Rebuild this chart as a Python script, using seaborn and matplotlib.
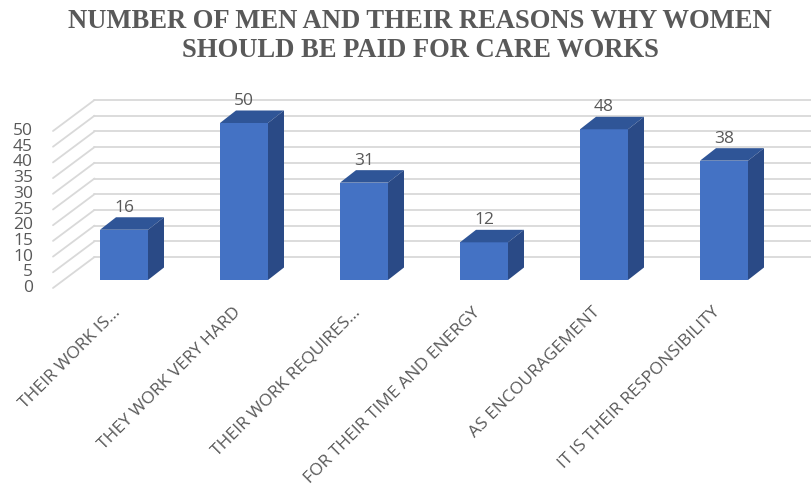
import matplotlib
matplotlib.use("Agg")
import matplotlib.pyplot as plt
import seaborn as sns
import numpy as np
from matplotlib.transforms import Affine2D
from matplotlib.patches import Polygon
from matplotlib.lines import Line2D

categories = ["THEIR WORK IS...", "THEY WORK VERY HARD", "THEIR WORK REQUIRES...",
              "FOR THEIR TIME AND ENERGY", "AS ENCOURAGEMENT", "IT IS THEIR RESPONSIBILITY"]
values = [16, 50, 31, 12, 48, 38]
yticks = [0, 5, 10, 15, 20, 25, 30, 35, 40, 45, 50]
title = "NUMBER OF MEN AND THEIR REASONS WHY WOMEN\nSHOULD BE PAID FOR CARE WORKS"

FRONT = "#4472C4"
TOP = "#2F5597"
SIDE = "#2A4A86"
GRID = "#D9D9D9"
TXT = "#595959"

sns.set_theme(style="white")
plt.rcParams["font.family"] = ["Open Sans", "DejaVu Sans"]

W, H = 812, 486
fig = plt.figure(figsize=(W / 100, H / 100), dpi=100)
# front plane of the bars: x center i at 124+120i px, y=0 at 280 px from top, 3.14 px/unit
ax = fig.add_axes([64 / W, (H - 280) / H, 720 / W, 157 / H])
ax.set_xlim(-0.5, 5.5)
ax.set_ylim(0, 50)
ax.axis("off")

# offsets in display pixels (y up)
back = Affine2D().translate(30.5, 23)
front = Affine2D().translate(-11, -8)
depth = np.array([16.0, 12.5])

# back wall grid lines and diagonals on the left wall
for t in yticks:
    ax.add_line(Line2D([-0.5, 5.5], [t, t], transform=ax.transData + back,
                       color=GRID, lw=1.3, clip_on=False, zorder=0))
    p_front = (ax.transData + front).transform((-0.5, t))
    p_back = (ax.transData + back).transform((-0.5, t))
    ax.add_line(Line2D([p_front[0], p_back[0]], [p_front[1], p_back[1]], transform=None,
                       color=GRID, lw=1.3, clip_on=False, zorder=0))
    ax.text(p_front[0] - 20, p_front[1], str(t), transform=None, ha="right", va="center",
            fontsize=12.5, color=TXT)

sns.barplot(x=categories, y=values, color=FRONT, width=0.4, ax=ax, saturation=1,
            zorder=3, edgecolor="none")

for p, v in zip(ax.patches, values):
    x0, x1 = p.get_x(), p.get_x() + p.get_width()
    h = p.get_height()
    br = ax.transData.transform((x1, 0))
    tl = ax.transData.transform((x0, h))
    tr = ax.transData.transform((x1, h))
    top = Polygon([tl, tr, tr + depth, tl + depth], closed=True, transform=None,
                  facecolor=TOP, edgecolor="none", zorder=3)
    side = Polygon([br, tr, tr + depth, br + depth], closed=True, transform=None,
                   facecolor=SIDE, edgecolor="none", zorder=3)
    fig.add_artist(top)
    fig.add_artist(side)
    c = ax.transData.transform(((x0 + x1) / 2, h))
    ax.text(c[0], c[1] + 22, f"{v}", transform=None, ha="center", va="center",
            fontsize=12.5, color=TXT)

for i, lab in enumerate(categories):
    c = (ax.transData + front).transform((i, 0))
    ax.text(c[0] + 5, c[1] - 22, lab, transform=None, rotation=45, rotation_mode="anchor",
            ha="right", va="center", fontsize=12.5, color=TXT)

fig.text(420 / W, 1 - 36 / H, title, ha="center", va="center", fontsize=19.2,
         fontweight="bold", color=TXT, family=["Liberation Serif", "DejaVu Serif"],
         linespacing=1.2)

fig.savefig("out.png", dpi=100)
